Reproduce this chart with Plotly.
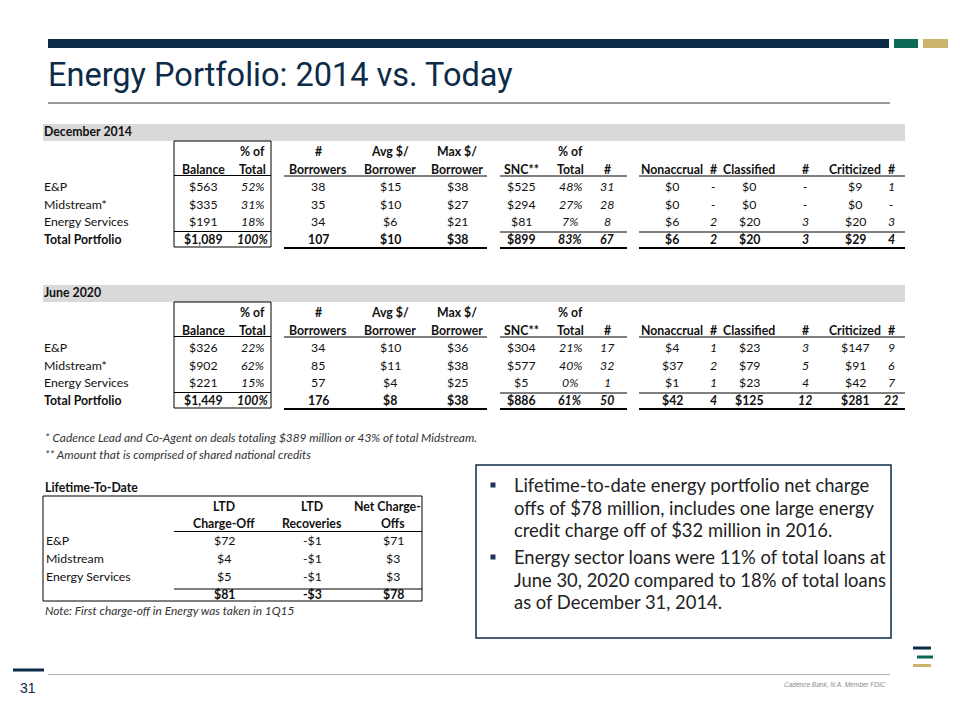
import plotly.graph_objects as go

# ---------------- data ----------------
row_labels = ["E&P", "Midstream*", "Energy Services", "Total Portfolio"]

dec_balance = [563, 335, 191, 1089]
dec_pct = [52, 31, 18, 100]
dec_borrowers = [38, 35, 34, 107]
dec_avg = [15, 10, 6, 10]
dec_max = [38, 27, 21, 38]
dec_snc = [525, 294, 81, 899]
dec_snc_pct = [48, 27, 7, 83]
dec_snc_n = [31, 28, 8, 67]
dec_nonaccrual = [0, 0, 6, 6]
dec_nonaccrual_n = [None, None, 2, 2]
dec_classified = [0, 0, 20, 20]
dec_classified_n = [None, None, 3, 3]
dec_criticized = [9, 0, 20, 29]
dec_criticized_n = [1, None, 3, 4]

jun_balance = [326, 902, 221, 1449]
jun_pct = [22, 62, 15, 100]
jun_borrowers = [34, 85, 57, 176]
jun_avg = [10, 11, 4, 8]
jun_max = [36, 38, 25, 38]
jun_snc = [304, 577, 5, 886]
jun_snc_pct = [21, 40, 0, 61]
jun_snc_n = [17, 32, 1, 50]
jun_nonaccrual = [4, 37, 1, 42]
jun_nonaccrual_n = [1, 2, 1, 4]
jun_classified = [23, 79, 23, 125]
jun_classified_n = [3, 5, 4, 12]
jun_criticized = [147, 91, 42, 281]
jun_criticized_n = [9, 6, 7, 22]

ltd_labels = ["E&P", "Midstream", "Energy Services", ""]
ltd_chargeoff = [72, 4, 5, 81]
ltd_recoveries = [-1, -1, -1, -3]
ltd_net = [71, 3, 3, 78]

footnotes = ["* Cadence Lead and Co-Agent on deals totaling $389 million or 43% of total Midstream.",
             "** Amount that is comprised of shared national credits"]
ltd_note = "Note: First charge-off in Energy was taken in 1Q15"
bullets = [
    ["Lifetime-to-date energy portfolio net charge",
     "offs of $78 million, includes one large energy",
     "credit charge off of $32 million in 2016."],
    ["Energy sector loans were 11% of total loans at",
     "June 30, 2020 compared to 18% of total loans",
     "as of December 31, 2014."],
]

# ---------------- styling ----------------
NAVY = "#0c2b48"
GREEN = "#0b6a55"
GOLD = "#cbb46b"
FONT = "Lato, Carlito, Calibri, sans-serif"
FS = 12.3
TXT = "#111111"
DY = -1.0  # visual centring correction for table text


def money(v):
    if v is None:
        return "-"
    return f"-${abs(v):,}" if v < 0 else f"${v:,}"


def pct(v):
    return f"{v}%"


def cnt(v):
    return "-" if v is None else str(v)


fig = go.Figure()
shapes = []
ann = []


def text(x, y, s, size=FS, color=TXT, anchor="center", family=FONT, yanchor="middle"):
    ann.append(dict(x=x, y=y, xref="x", yref="y", text=s, showarrow=False,
                    xanchor=anchor, yanchor=yanchor,
                    font=dict(family=family, size=size, color=color)))


def hline(x0, x1, y, w=1, color="#000000"):
    shapes.append(dict(type="line", x0=x0, x1=x1, y0=y, y1=y, xref="x", yref="y",
                       line=dict(color=color, width=w)))


def rect(x0, x1, y0, y1, fill=None, line=None, lw=1):
    d = dict(type="rect", x0=x0, x1=x1, y0=y0, y1=y1, xref="x", yref="y",
             line=dict(width=lw if line else 0, color=line or "rgba(0,0,0,0)"))
    if fill:
        d["fillcolor"] = fill
    shapes.append(d)


# ---------------- header / frame ----------------
rect(48, 889, 39, 48, fill=NAVY)
rect(894, 918, 39, 48, fill=GREEN)
rect(923, 948, 39, 48, fill=GOLD)
text(46, 75, "Energy Portfolio: 2014 vs. Today", size=32.5, color=NAVY,
     anchor="left", family="Roboto, Liberation Sans, sans-serif")
hline(48, 890, 103, 1, "#333333")

# ---------------- portfolio tables ----------------
columns = [
    # key, x, header1, header2, kind, italic
    ("balance", 203, "", "Balance", "money", False),
    ("pct", 252, "% of", "Total", "pct", True),
    ("borrowers", 318, "#", "Borrowers", "cnt", False),
    ("avg", 390, "Avg $/", "Borrower", "money", False),
    ("max", 457, "Max $/", "Borrower", "money", False),
    ("snc", 521, "", "SNC**", "money", False),
    ("snc_pct", 570, "% of", "Total", "pct", True),
    ("snc_n", 607, "", "#", "cnt", True),
    ("nonaccrual", 672, "", "Nonaccrual", "money", False),
    ("nonaccrual_n", 713, "", "#", "cnt", True),
    ("classified", 749, "", "Classified", "money", False),
    ("classified_n", 805, "", "#", "cnt", True),
    ("criticized", 855, "", "Criticized", "money", False),
    ("criticized_n", 891, "", "#", "cnt", True),
]
fmt = {"money": money, "pct": pct, "cnt": cnt}

tables = [
    ("December 2014", 0, dict(balance=dec_balance, pct=dec_pct, borrowers=dec_borrowers,
                              avg=dec_avg, max=dec_max, snc=dec_snc, snc_pct=dec_snc_pct,
                              snc_n=dec_snc_n, nonaccrual=dec_nonaccrual,
                              nonaccrual_n=dec_nonaccrual_n, classified=dec_classified,
                              classified_n=dec_classified_n, criticized=dec_criticized,
                              criticized_n=dec_criticized_n)),
    ("June 2020", 161, dict(balance=jun_balance, pct=jun_pct, borrowers=jun_borrowers,
                            avg=jun_avg, max=jun_max, snc=jun_snc, snc_pct=jun_snc_pct,
                            snc_n=jun_snc_n, nonaccrual=jun_nonaccrual,
                            nonaccrual_n=jun_nonaccrual_n, classified=jun_classified,
                            classified_n=jun_classified_n, criticized=jun_criticized,
                            criticized_n=jun_criticized_n)),
]

row_y = [187, 205, 222, 240]
for title, off, data in tables:
    rect(43, 905, 124 + off, 141 + off, fill="#d9d9d9")
    text(42, 132.5 + off + DY, f"<b>{title}</b>", anchor="left")
    # box around balance
    rect(174, 271, 141 + off, 247 + off, line="#000000", lw=1)
    hline(174, 271, 175.5 + off)
    hline(174, 271, 231.5 + off)
    # section rules
    hline(284, 487, 176 + off)
    hline(284, 487, 248 + off, 2)
    hline(500, 627, 176 + off)
    hline(500, 627, 232 + off)
    hline(500, 627, 248 + off, 2)
    hline(639, 905, 176 + off)
    hline(639, 905, 232 + off)
    hline(639, 905, 248 + off, 2)
    for key, x, h1, h2, kind, ital in columns:
        if h1:
            text(x, 152 + off + DY, f"<b>{h1}</b>")
        text(x, 170 + off + DY, f"<b>{h2}</b>")
        for i, v in enumerate(data[key]):
            s = fmt[kind](v)
            if ital:
                s = f"<i>{s}</i>"
            if i == 3:
                s = f"<b>{s}</b>"
            text(x, row_y[i] + off + DY, s)
    for i, lab in enumerate(row_labels):
        text(42, row_y[i] + off + DY, f"<b>{lab}</b>" if i == 3 else lab, anchor="left")

# footnotes
text(43, 437, f"<i>{footnotes[0]}</i>", size=11.9, color="#333333", anchor="left")
text(43, 454, f"<i>{footnotes[1]}</i>", size=11.9, color="#333333", anchor="left")

# ---------------- lifetime-to-date table ----------------
text(43, 488 + DY, "<b>Lifetime-To-Date</b>", anchor="left")
rect(43, 422, 496, 601, line="#000000", lw=1)
hline(174, 422, 531.5)
hline(174, 422, 589)
ltd_cols = [(224, 224, "LTD", "Charge-Off", ltd_chargeoff),
            (312, 312, "LTD", "Recoveries", ltd_recoveries),
            (387, 393, "Net Charge-", "Offs", ltd_net)]
ltd_y = [541, 559, 577, 595]
for xh, x, h1, h2, vals in ltd_cols:
    text(xh, 507 + DY, f"<b>{h1}</b>")
    text(x, 524 + DY, f"<b>{h2}</b>")
    for i, v in enumerate(vals):
        s = money(v)
        text(x, ltd_y[i] + DY, f"<b>{s}</b>" if i == 3 else s)
for i, lab in enumerate(ltd_labels):
    if lab:
        text(44, ltd_y[i] + DY, lab, anchor="left")
text(43, 610, f"<i>{ltd_note}</i>", size=11.9, color="#333333", anchor="left")

# ---------------- commentary box ----------------
rect(476, 891, 465, 638, line=NAVY, lw=1.5)
para_y = [[485, 507.5, 530], [557, 579.5, 602]]
for lines, ys in zip(bullets, para_y):
    rect(490.5, 495.5, ys[0] - 2.5, ys[0] + 2.5, fill="#1c3553")
    for ln, y in zip(lines, ys):
        text(512, y, ln, size=18.4, color="#222222", anchor="left")

# ---------------- footer ----------------
rect(13, 44, 668.5, 671.5, fill=NAVY)
text(28, 688, "31", size=14, color=NAVY, family="Liberation Sans, Arial, sans-serif")
hline(48, 890, 674.5, 1, "#b0b0b0")
text(888, 684, "<i>Cadence Bank, N.A. Member FDIC</i>", size=6.5, color="#8a8a8a", anchor="right",
     family="Liberation Sans, sans-serif")
rect(913, 931, 646.5, 649.5, fill=NAVY)
rect(917, 933, 655.5, 658.5, fill=GREEN)
rect(913, 931, 664, 667, fill=GOLD)

# The page body has an 8px margin, so the figure is drawn from page pixel 8
# and its axes start at 8 to keep page-pixel coordinates.
PAGE_OFFSET = 8
fig.update_layout(
    width=960 - PAGE_OFFSET, height=720 - PAGE_OFFSET,
    margin=dict(l=0, r=0, t=0, b=0),
    paper_bgcolor="white", plot_bgcolor="white",
    xaxis=dict(range=[PAGE_OFFSET, 960], visible=False, fixedrange=True),
    yaxis=dict(range=[720, PAGE_OFFSET], visible=False, fixedrange=True),
    shapes=shapes, annotations=ann, showlegend=False,
)
fig.write_html("out.html")
